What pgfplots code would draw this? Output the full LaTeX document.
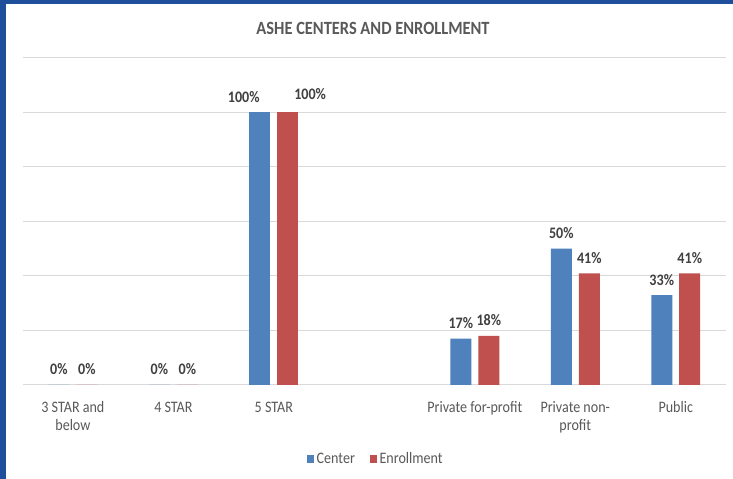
\documentclass[border=0pt]{standalone}
\usepackage{pgfplots}
\pgfplotsset{compat=1.18}
\usepackage{fontspec}
\setmainfont{Carlito}[FakeStretch=0.88]
\definecolor{cblue}{RGB}{79,129,189}
\definecolor{cred}{RGB}{192,80,77}
\definecolor{frameblue}{RGB}{31,78,155}
\definecolor{txt}{RGB}{89,89,89}
\definecolor{lbl}{RGB}{64,64,64}
\definecolor{gridc}{RGB}{217,217,217}

\begin{document}
\begin{tikzpicture}
\path[use as bounding box, fill=white] (0,0) rectangle (549.75pt,359.25pt);
\fill[frameblue] (0,356.6pt) rectangle (549.75pt,359.25pt);
\fill[frameblue] (0,0) rectangle (4.5pt,359.25pt);
\node[anchor=base, font=\bfseries\fontsize{14}{16}\selectfont, text=txt, inner sep=0pt] at (279.75pt,333.5pt) {ASHE CENTERS AND ENROLLMENT};
\begin{axis}[
  at={(17pt,70.5pt)}, anchor=south west,
  width=527.5pt, height=245.25pt, scale only axis,
  xmin=-0.5, xmax=6.5, ymin=0, ymax=120,
  ytick={0,20,...,120}, yticklabels={},
  ymajorgrids, grid style={gridc, line width=0.75pt},
  axis line style={draw=none},
  major tick length=0pt,
  xtick={0,1,2,4,5,6},
  xticklabels={3 STAR and\\below, 4 STAR, 5 STAR, Private for-profit, Private non-\\profit, Public},
  xticklabel style={align=center, font=\fontsize{12}{13.1}\selectfont, text=txt, anchor=north, yshift=-9pt},
  legend style={at={(0.5024,-0.2263)}, anchor=center, draw=none, fill=none,
    font=\fontsize{12}{14}\selectfont, text=txt,
    /tikz/every even column/.append style={column sep=9pt}},
  legend columns=2,
  point meta=y,
  nodes near coords={\pgfmathprintnumber[fixed,precision=0,assume math mode=true]{\pgfplotspointmeta}\%},
  nodes near coords style={anchor=base, yshift=7.5pt, font=\bfseries\fontsize{12}{14}\selectfont, text=lbl},
]
\addplot[ybar, bar width=0.209, bar shift=-0.139, fill=cblue, draw=none,
  nodes near coords style={xshift=-10.5pt},
  legend image code/.code={\fill[cblue] (0pt,-2.75pt) rectangle (5.5pt,2.75pt);}]
  coordinates {(0,0) (1,0) (4,17) (5,50) (6,33)};
\addlegendentry{Center}
\addplot[ybar, bar width=0.209, bar shift=0.139, fill=cred, draw=none,
  nodes near coords style={xshift=10.5pt},
  legend image code/.code={\fill[cred] (0pt,-2.75pt) rectangle (5.5pt,2.75pt);}]
  coordinates {(0,0) (1,0) (4,18) (5,41) (6,41)};
\addlegendentry{Enrollment}
\addplot[ybar, bar width=0.209, bar shift=-0.139, fill=cblue, draw=none, forget plot,
  nodes near coords style={xshift=-22.6pt}]
  coordinates {(2,100)};
\addplot[ybar, bar width=0.209, bar shift=0.139, fill=cred, draw=none, forget plot,
  nodes near coords style={xshift=27.2pt, yshift=2.25pt}]
  coordinates {(2,100)};
\end{axis}
\end{tikzpicture}
\end{document}
